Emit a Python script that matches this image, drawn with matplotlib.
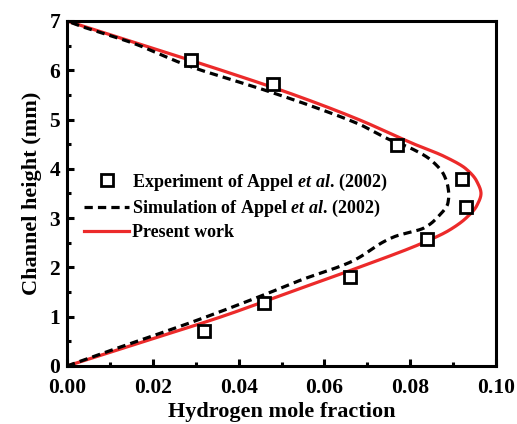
import numpy as np
import matplotlib
matplotlib.use("Agg")
import matplotlib.pyplot as plt
from matplotlib.ticker import MultipleLocator, FormatStrFormatter

plt.rcParams['font.family'] = ['Liberation Serif', 'DejaVu Serif']
plt.rcParams['font.weight'] = 'bold'
plt.rcParams['mathtext.fontset'] = 'custom'
plt.rcParams['mathtext.rm'] = 'Liberation Serif:bold'
plt.rcParams['mathtext.it'] = 'Liberation Serif:italic:bold'
plt.rcParams['mathtext.bf'] = 'Liberation Serif:bold'

# Experimental data (Appel et al., 2002)
exp_x = [0.032, 0.046, 0.066, 0.084, 0.093, 0.092, 0.077, 0.048, 0.029]
exp_y = [0.70, 1.28, 1.81, 2.58, 3.22, 3.79, 4.48, 5.72, 6.21]

# Simulation of Appel et al. (2002)
sim_x = [0.0, 0.0077, 0.031, 0.0458, 0.0544, 0.0661, 0.0762, 0.0832, 0.0864,
         0.0888, 0.0890, 0.0888, 0.0879, 0.0848, 0.0801, 0.0755, 0.0685, 0.0584,
         0.0474, 0.028, 0.0154, 0.0037, 0.0]
sim_y = [0.0, 0.24, 0.95, 1.44, 1.74, 2.11, 2.62, 2.80, 3.02,
         3.31, 3.47, 3.63, 3.87, 4.18, 4.42, 4.58, 4.89, 5.23,
         5.56, 6.10, 6.55, 6.88, 7.0]

# Present work
model_x = [0.0, 0.018, 0.036, 0.052, 0.068, 0.083, 0.089, 0.093, 0.0955, 0.0965,
           0.0955, 0.093, 0.088, 0.081, 0.068, 0.053, 0.036, 0.018, 0.0]
model_y = [0.0, 0.5, 1.0, 1.5, 2.0, 2.5, 2.75, 3.0, 3.25, 3.5,
           3.75, 4.0, 4.25, 4.5, 5.0, 5.5, 6.0, 6.5, 7.0]


def pchip(xk, yk, xs):
    """Shape-preserving piecewise cubic Hermite interpolation."""
    xk = np.asarray(xk, float)
    yk = np.asarray(yk, float)
    h = np.diff(xk)
    d = np.diff(yk) / h
    m = np.zeros_like(yk)
    for i in range(1, len(xk) - 1):
        if d[i - 1] * d[i] > 0:
            w1 = 2 * h[i] + h[i - 1]
            w2 = h[i] + 2 * h[i - 1]
            m[i] = (w1 + w2) / (w1 / d[i - 1] + w2 / d[i])
    m[0] = d[0]
    m[-1] = d[-1]
    idx = np.clip(np.searchsorted(xk, xs) - 1, 0, len(xk) - 2)
    t = (xs - xk[idx]) / h[idx]
    h00 = 2 * t**3 - 3 * t**2 + 1
    h10 = t**3 - 2 * t**2 + t
    h01 = -2 * t**3 + 3 * t**2
    h11 = t**3 - t**2
    return (h00 * yk[idx] + h10 * h[idx] * m[idx]
            + h01 * yk[idx + 1] + h11 * h[idx] * m[idx + 1])


heights = np.linspace(0, 7, 701)
sim_curve = pchip(sim_y, sim_x, heights)
model_curve = pchip(model_y, model_x, heights)

fig = plt.figure(figsize=(5.17, 4.24), dpi=100)
ax = fig.add_axes([0.1296, 0.1368, 0.8298, 0.8137])

ax.plot(exp_x, exp_y, linestyle='none', marker='s', markersize=8,
        markerfacecolor='white', markeredgecolor='black', markeredgewidth=2,
        label=r'Experiment of Appel $et\ al$. (2002)', zorder=4)
ax.plot(sim_curve, heights, color='black', linestyle=(0, (2.6, 1.6)), linewidth=2.3,
        label=r'Simulation of Appel $et\ al$. (2002)', zorder=3)
ax.plot(model_curve, heights, color='#ec2a2a', linewidth=2.3,
        label='Present work', zorder=2)

ax.set_xlim(0, 0.10)
ax.set_ylim(0, 7)
ax.xaxis.set_major_locator(MultipleLocator(0.02))
ax.xaxis.set_minor_locator(MultipleLocator(0.01))
ax.yaxis.set_major_locator(MultipleLocator(1))
ax.yaxis.set_minor_locator(MultipleLocator(0.5))
ax.xaxis.set_major_formatter(FormatStrFormatter('%.2f'))

for s in ax.spines.values():
    s.set_linewidth(2.2)
ax.tick_params(which='both', direction='in', width=2.2, top=False, right=False,
               labelsize=15.5)
ax.tick_params(axis='x', pad=8.5)
ax.tick_params(axis='y', pad=5)
ax.tick_params(which='major', length=5)
ax.tick_params(which='minor', length=3)
for lab in ax.get_xticklabels() + ax.get_yticklabels():
    lab.set_fontweight('bold')

ax.set_xlabel('Hydrogen mole fraction', fontsize=16, fontweight='bold', labelpad=3)
ax.set_ylabel('Channel height (mm)', fontsize=16, fontweight='bold', labelpad=5)

leg = ax.legend(loc='upper left', bbox_to_anchor=(0.023, 0.585), frameon=False,
                fontsize=13, handlelength=2.5, handletextpad=0.15,
                labelspacing=0.3, borderaxespad=0)
for t in leg.get_texts():
    t.set_fontweight('bold')

fig.savefig('out.png', dpi=100)
